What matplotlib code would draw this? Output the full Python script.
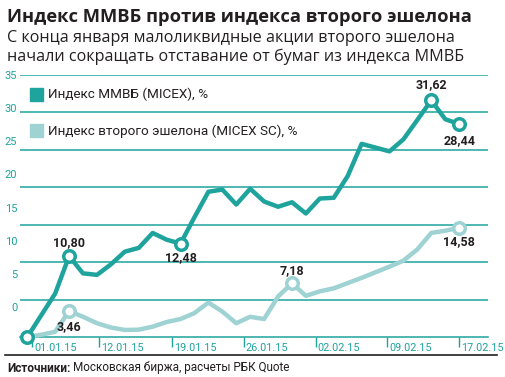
import numpy as np
import matplotlib
matplotlib.use('Agg')
import matplotlib.pyplot as plt
from matplotlib import font_manager


def pick_font(names):
    for n in names:
        try:
            font_manager.findfont(n, fallback_to_default=False)
            return n
        except Exception:
            pass
    return 'DejaVu Sans'


HEAD = pick_font(['Open Sans', 'Noto Sans', 'DejaVu Sans'])
NARROW = pick_font(['Liberation Sans Narrow', 'DejaVu Sans Condensed', 'Roboto', 'DejaVu Sans'])

# --- data -------------------------------------------------------------------
micex = [0.0, 2.9, 5.8, 10.80, 8.5, 8.3, 9.7, 11.4, 11.9, 13.9, 13.0, 12.48,
         16.0, 19.4, 19.7, 17.7, 19.8, 18.1, 17.4, 18.0, 16.5, 18.5, 18.6, 21.5,
         25.8, 25.3, 24.8, 26.4, 29.0, 31.62, 29.1, 28.44]
micex_sc = [0.0, 0.3, 0.7, 3.46, 2.7, 1.84, 1.27, 0.94, 0.98, 1.38, 2.0, 2.4,
            3.2, 4.6, 3.4, 1.84, 2.7, 2.4, 5.4, 7.18, 5.5, 6.1, 6.5, 7.2,
            7.9, 8.65, 9.4, 10.2, 11.7, 13.9, 14.2, 14.58]
x_labels = ['01.01.15', '12.01.15', '19.01.15', '26.01.15', '02.02.15', '09.02.15', '17.02.15']
x_label_pos = [0.35, 5.15, 10.4, 15.55, 20.7, 25.85, 31.0]
y_labels = ['0', '5', '10', '15', '20', '25', '30', '35']
micex_marks = [3, 11, 29, 31]
sc_marks = [3, 19, 31]

DARK = '#1ea39d'
LIGHT = '#9fd2d3'
TXT = '#231f20'

W, H = 506, 377
fig = plt.figure(figsize=(W / 100, H / 100), dpi=100)
ax = fig.add_axes([20 / W, (H - 337) / H, 468 / W, 262 / H])

x = np.arange(len(micex))
ax.set_xlim((20 - 27.3) / 13.93, (488 - 27.3) / 13.93)
ax.set_ylim(0, 35)

for v in range(5, 40, 5):
    ax.axhline(v, color=DARK, lw=1.1, zorder=1)

ax.plot(x, micex_sc, color=LIGHT, lw=3.2, solid_joinstyle='round', solid_capstyle='round',
        clip_on=False, zorder=3)
ax.plot(x, micex, color=DARK, lw=3.2, solid_joinstyle='round', solid_capstyle='round',
        clip_on=False, zorder=4)

ax.plot(x[sc_marks], np.array(micex_sc)[sc_marks], 'o', ms=8.3, mfc='white', mec=LIGHT, mew=2.5,
        clip_on=False, zorder=5)
ax.plot(x[micex_marks], np.array(micex)[micex_marks], 'o', ms=8.3, mfc='white', mec=DARK, mew=2.5,
        clip_on=False, zorder=6)
ax.plot([0], [0], 'o', ms=8.3, mfc='white', mec=DARK, mew=2.5, clip_on=False, zorder=7)

def note(xv, yv, dy):
    ax.annotate(f'{yv:.2f}'.replace('.', ','), (xv, yv), xytext=(0, dy), textcoords='offset points',
                ha='center', va='center', fontsize=9, fontweight='bold', color=TXT,
                family=NARROW, zorder=8)

note(3, micex[3], 10)
note(11, micex[11], -10)
note(29, micex[29], 11)
note(31, micex[31], -12)
note(3, micex_sc[3], -11)
note(19, micex_sc[19], 9)
note(31, micex_sc[31], -10)

for s in ['top', 'right', 'left']:
    ax.spines[s].set_visible(False)
ax.spines['bottom'].set_color(DARK)
ax.spines['bottom'].set_linewidth(1.1)

ax.set_xticks(x_label_pos)
ax.set_xticklabels(x_labels, ha='left', fontsize=7.8, color=DARK, family=NARROW)
ax.tick_params(axis='x', direction='out', length=7, width=1, color=DARK, pad=0)
for lbl in ax.get_xticklabels():
    lbl.set_transform(lbl.get_transform() + matplotlib.transforms.ScaledTranslation(2 / 100, 4 / 100, fig.dpi_scale_trans))

ax.set_yticks(np.linspace(4, 35, 8))
ax.set_yticklabels(y_labels, fontsize=8, color=DARK, family=NARROW)
ax.tick_params(axis='y', length=0, pad=2)

# legend
fig.patches.append(plt.Rectangle((30 / W, 1 - 101 / H), 13 / W, 13 / H, transform=fig.transFigure,
                                 color=DARK))
fig.patches.append(plt.Rectangle((30 / W, 1 - 137 / H), 13 / W, 13 / H, transform=fig.transFigure,
                                 color=LIGHT))
fig.text(48 / W, 1 - 94 / H, 'Индекс ММВБ (MICEX), %', fontsize=9.7, color=TXT, va='center',
         family=NARROW)
fig.text(48 / W, 1 - 131 / H, 'Индекс второго эшелона (MICEX SC), %', fontsize=9.7, color=TXT,
         va='center', family=NARROW)

# titles
fig.text(7 / W, 1 - 17 / H, 'Индекс ММВБ против индекса второго эшелона', fontsize=13.2,
         fontweight='bold', color=TXT, va='center', family=HEAD)
fig.text(7 / W, 1 - 38 / H, 'С конца января малоликвидные акции второго эшелона', fontsize=11.6,
         color=TXT, va='center', family=HEAD)
fig.text(7 / W, 1 - 57 / H, 'начали сокращать отставание от бумаг из индекса ММВБ', fontsize=11.6,
         color=TXT, va='center', family=HEAD)

# source
fig.add_artist(plt.Line2D([5 / W, 497 / W], [1 - 355 / H, 1 - 355 / H], color=TXT, lw=1.2))
t = fig.text(7 / W, 1 - 368 / H, 'Источники:', fontsize=8.5, fontweight='bold', color=TXT,
             va='center', family=NARROW)
fig.canvas.draw()
bb = t.get_window_extent()
fig.text((bb.x1 + 3) / W, 1 - 368 / H, 'Московская биржа, расчеты РБК Quote', fontsize=8.5,
         color=TXT, va='center', family=NARROW)

fig.savefig('out.png', dpi=100)
